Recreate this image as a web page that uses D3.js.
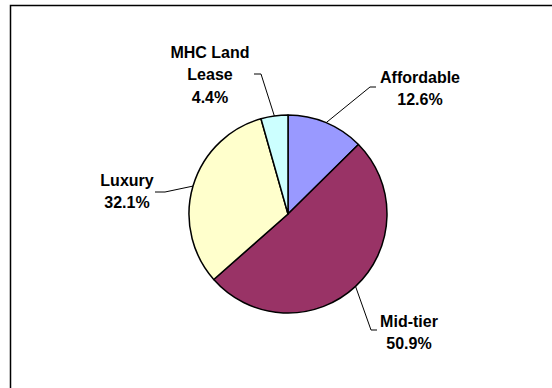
<!DOCTYPE html>
<html>
<head>
<meta charset="utf-8">
<script src="https://cdn.jsdelivr.net/npm/d3@7"></script>
<style>
  body { margin: 0; background: #fff; }
  svg { display: block; }
</style>
</head>
<body>
<div id="chart"></div>
<script>
// Chart data
const categories = ["Affordable", "Mid-tier", "Luxury", "MHC Land Lease"];
const shares = [12.6, 50.9, 32.1, 4.4];
const sliceColors = ["#9999ff", "#993366", "#ffffcc", "#ccffff"];

// Label text lines per slice (MHC wraps onto two lines)
const labelLines = [["Affordable"], ["Mid-tier"], ["Luxury"], ["MHC Land", "Lease"]];

// Dimensions
const width = 552, height = 388;
const center = { x: 288, y: 214 },
      radius = 99,
      lineStep = 22.5,
      fontSize = 16;

// Label layout: text centre, leader elbow and end (relative to pie centre)
const labelLayout = [
    { tx: 132, ty: -137, elbow: [82, -127], end: [88, -127] },
    { tx: 121, ty: 107, elbow: [83, 116], end: [89, 116] },
    { tx: -161, ty: -34, elbow: [-123, -22], end: [-133, -22] },
    { tx: -78, ty: -162, elbow: [-27, -140], end: [-34, -140] }
];

const svg = d3.select("#chart").append("svg")
    .attr("width", width)
    .attr("height", height);

// Chart frame (runs off the right and bottom edges)
svg.append("rect")
    .attr("x", 10.5)
    .attr("y", 5.5)
    .attr("width", 600)
    .attr("height", 420)
    .attr("fill", "none")
    .attr("stroke", "#000")
    .attr("stroke-width", 1.5);

const pie = d3.pie().sort(null).value(d => d.value);
const arcs = pie(categories.map((c, i) => ({ name: c, value: shares[i], i: i })));

const arc = d3.arc().innerRadius(0).outerRadius(radius);
const edgeArc = d3.arc().innerRadius(radius).outerRadius(radius);

const g = svg.append("g")
    .attr("transform", `translate(${center.x},${center.y})`);

g.selectAll("path.slice")
    .data(arcs)
    .join("path")
    .attr("class", "slice")
    .attr("d", arc)
    .attr("fill", d => sliceColors[d.data.i])
    .attr("stroke", "#000")
    .attr("stroke-width", 1.5)
    .attr("stroke-linejoin", "round");

// Leader lines from the slice edge to the label
g.selectAll("polyline.leader")
    .data(arcs)
    .join("polyline")
    .attr("class", "leader")
    .attr("fill", "none")
    .attr("stroke", "#000")
    .attr("stroke-width", 1)
    .attr("points", function(d) {
        const lay = labelLayout[d.data.i];
        const p = edgeArc.centroid(d);
        return [p, lay.elbow, lay.end].map(q => q.join(",")).join(" ");
    });

// Labels
const label = g.selectAll("text.label")
    .data(arcs)
    .join("text")
    .attr("class", "label")
    .attr("font-family", "'Liberation Sans', Arial, sans-serif")
    .attr("font-weight", "bold")
    .attr("font-size", fontSize)
    .attr("fill", "#000")
    .attr("text-anchor", "middle");

label.each(function(d) {
    const lay = labelLayout[d.data.i];
    const lines = labelLines[d.data.i].concat([d3.format(".1f")(d.data.value) + "%"]);
    d3.select(this).selectAll("tspan")
        .data(lines)
        .join("tspan")
        .attr("x", lay.tx)
        .attr("y", (t, k) => lay.ty + k * lineStep)
        .attr("dy", "0.35em")
        .text(t => t);
});
</script>
</body>
</html>
